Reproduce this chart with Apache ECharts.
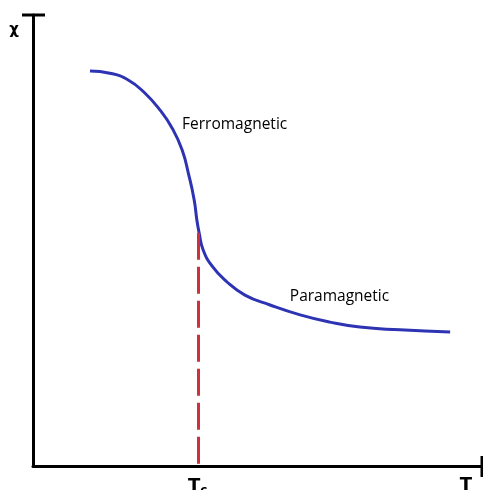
<!DOCTYPE html>
<html>
<head>
<meta charset="utf-8">
<script src="https://cdn.jsdelivr.net/npm/echarts@6/dist/echarts.min.js"></script>
<style>
  html, body { margin: 0; padding: 0; background: #fff; }
  #chart { width: 483px; height: 490px; }
</style>
</head>
<body>
<div id="chart"></div>
<script>
// susceptibility curve (arbitrary units 0..100)
const temps = [12.7, 17.1, 21.2, 24.9, 28.3, 31.0, 33.2, 34.7, 35.9, 36.5, 37.0, 37.9, 39.9, 43.0, 47.2, 52.8, 59.5, 66.1, 72.8, 81.7, 92.9]
const chi = [87.6, 87.1, 85.6, 82.7, 78.9, 74.9, 70.1, 64.5, 59.0, 54.5, 51.7, 47.9, 44.3, 41.0, 37.9, 35.7, 33.5, 31.9, 30.8, 30.2, 29.7]
const curieT = 36.7
const curieChi = 51.7
const xTicks = [curieT, 96.4]
const xTickLabels = ['Tc', 'T']
const phaseNames = ['Ferromagnetic', 'Paramagnetic']
const phasePos = [[33.2, 75.6], [57.2, 37.5]]

const chart = echarts.init(document.getElementById('chart'))

chart.setOption({
  animation: false,
  grid: { left: 33, right: 1, top: 15, bottom: 24, outerBoundsMode: 'none' },
  xAxis: {
    type: 'value',
    min: 0,
    max: 100,
    splitLine: { show: false },
    axisLine: { lineStyle: { color: '#000', width: 3 } },
    axisTick: { show: false },
    axisLabel: {
      customValues: xTicks,
      margin: 10,
      formatter: (v) => {
        const i = xTicks.indexOf(v)
        if (i === 0) return '{t|T}{s|c}'
        return '{t|' + xTickLabels[i] + '}'
      },
      rich: {
        t: { fontFamily: 'DejaVu Sans', fontSize: 18, fontWeight: 'bold', color: '#000' },
        s: { fontFamily: 'DejaVu Sans', fontSize: 12, fontWeight: 'bold', color: '#000', padding: [9, 0, 0, 0] },
      },
    },
  },
  yAxis: {
    type: 'value',
    min: 0,
    max: 100,
    splitLine: { show: false },
    axisLine: { lineStyle: { color: '#000', width: 3 } },
    axisTick: { show: false },
    axisLabel: {
      customValues: [96.7],
      margin: 14,
      formatter: () => 'χ',
      fontFamily: 'DejaVu Sans',
      fontSize: 15,
      fontWeight: 'bold',
      color: '#000',
    },
  },
  series: [
    {
      type: 'line',
      data: temps.map((t, i) => [t, chi[i]]),
      smooth: 0.5,
      showSymbol: false,
      lineStyle: { color: '#2d33b3', width: 3 },
      markLine: {
        silent: true,
        symbol: 'none',
        label: { show: false },
        lineStyle: { color: '#d0303c', width: 3, type: [27, 7] },
        data: [[{ coord: [curieT, curieChi] }, { coord: [curieT, 0] }]],
      },
      z: 3,
    },
    {
      type: 'scatter',
      symbolSize: 0,
      itemStyle: { opacity: 1 },
      data: phaseNames.map((n, i) => ({ name: n, value: phasePos[i] })),
      label: {
        show: true,
        position: 'right',
        distance: 0,
        formatter: '{b}',
        fontFamily: 'Open Sans',
        fontSize: 15.5,
        color: '#000',
        opacity: 1,
      },
    },
  ],
})

// little end caps on the two axes
const yTop = chart.convertToPixel({ gridIndex: 0 }, [0, 100])
const xEnd = chart.convertToPixel({ gridIndex: 0 }, [100, 0])
chart.setOption({
  graphic: [
    { type: 'line', shape: { x1: yTop[0] - 11, y1: yTop[1], x2: yTop[0] + 12, y2: yTop[1] }, style: { stroke: '#000', lineWidth: 3 } },
    { type: 'line', shape: { x1: xEnd[0], y1: xEnd[1] - 10, x2: xEnd[0], y2: xEnd[1] + 11 }, style: { stroke: '#000', lineWidth: 3 } },
  ],
})
</script>
</body>
</html>
